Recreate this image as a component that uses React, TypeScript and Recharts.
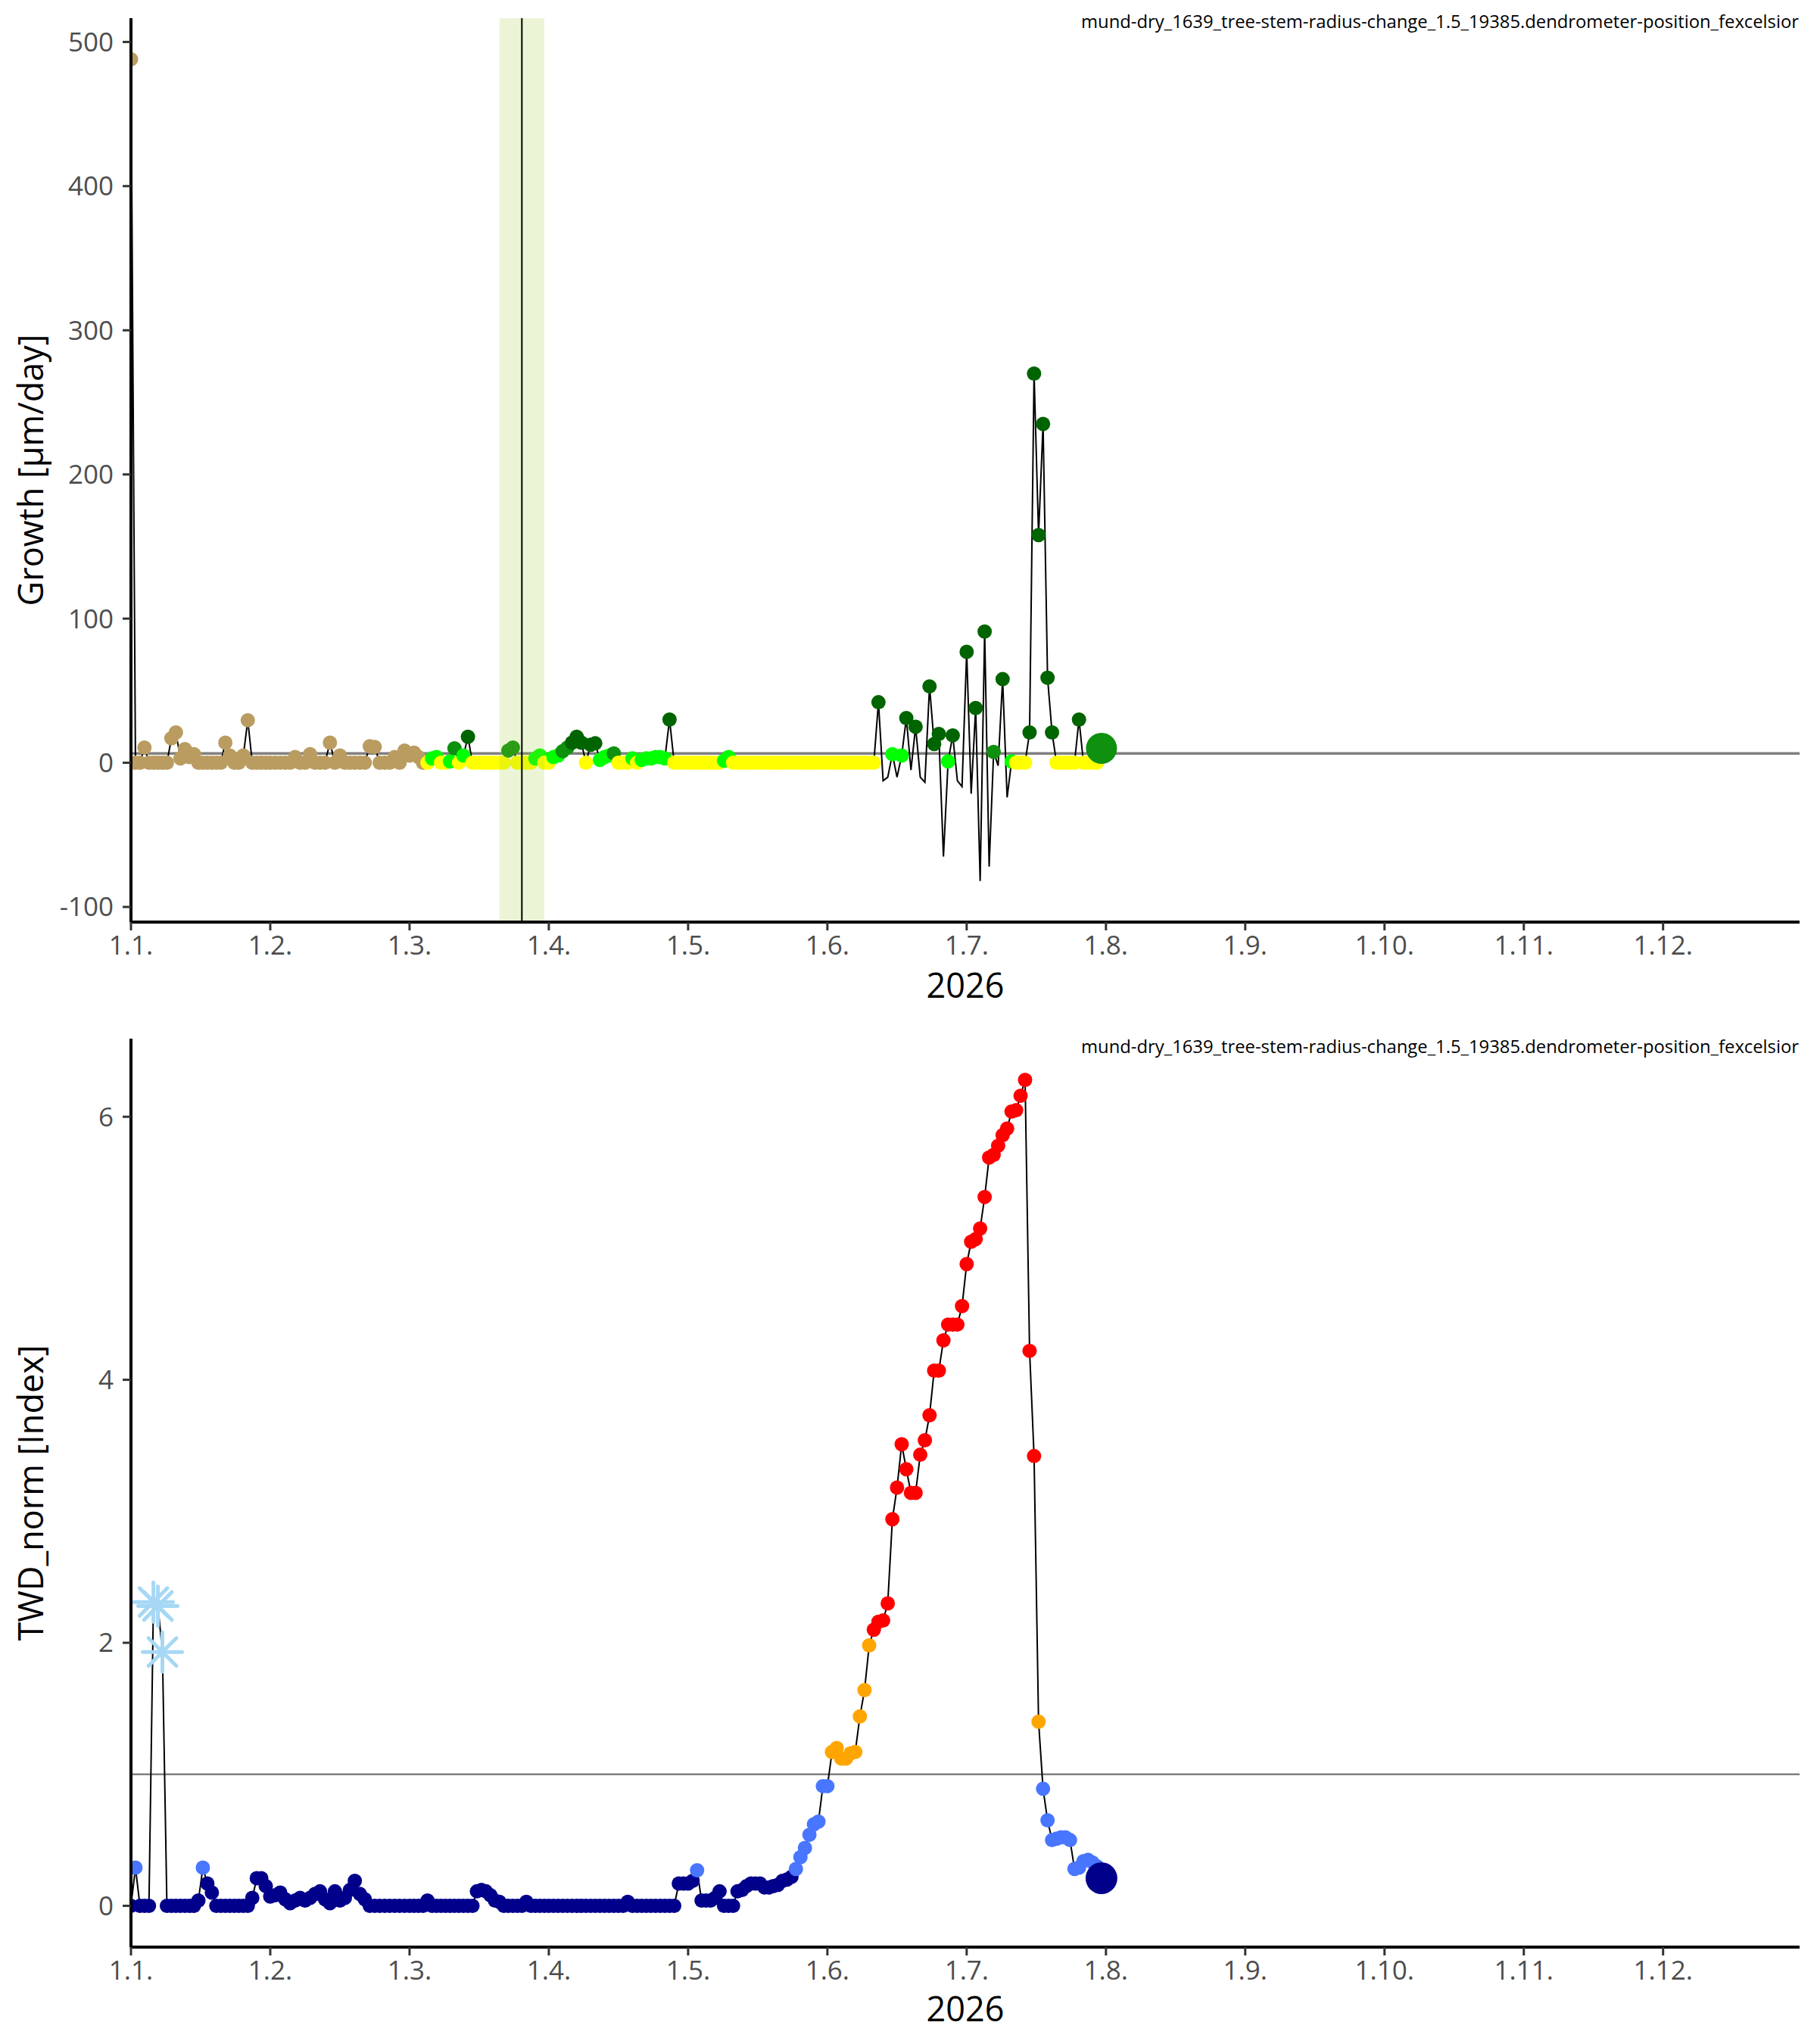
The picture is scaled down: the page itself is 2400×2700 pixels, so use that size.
import React from 'react';
import {
  ComposedChart,
  Line,
  Scatter,
  XAxis,
  YAxis,
  ReferenceLine,
  ReferenceArea,
} from 'recharts';

const YEAR = 2026;
const monthDays = [31, 28, 31, 30, 31, 30, 31, 31, 30, 31, 30, 31];
const monthTicks = [0, 1, 2, 3, 4, 5, 6, 7, 8, 9, 10, 11];
const monthLabels = ['1.1.', '1.2.', '1.3.', '1.4.', '1.5.', '1.6.', '1.7.', '1.8.', '1.9.', '1.10.', '1.11.', '1.12.'];
const growthTicks = [-100, 0, 100, 200, 300, 400, 500];
const twdTicks = [0, 2, 4, 6];

// daily growth [µm/day], one value per day
const growthJan = [488, 0, 0, 10.5, 0, 0, 0, 0, 0, 17, 21, 3, 9.5, 4, 6, 0, 0, 0, 0, 0, 0, 14, 5, 0, 0, 5, 29.5, 0, 0, 0, 0];
const growthFeb = [0, 0, 0, 0, 0, 4, 0, 0, 6, 0, 0, 0, 14, 0, 5, 0, 0, 0, 0, 0, 11.5, 11, 0, 0, 0, 4, 0, 8.5];
const growthMar = [5, 7, 4, 0, 0, 3, 4, 0, 0, 1, 10, 0, 5, 18, 0, 0, 0, 0, 0, 0, 0, 0, 8.5, 10.5, 0, 0, 0, 0, 3, 5, 0];
const growthApr = [0, 4, 5, 8, 10.5, 14, 18, 14, 0, 12.5, 13.5, 2, 4, 5, 6.5, 0, 0, 0, 3, 0, 2, 3, 3, 4, 4, 3, 30, 0, 0, 0];
const growthMay = [0, 0, 0, 0, 0, 0, 0, 0, 1.5, 4, 0, 0, 0, 0, 0, 0, 0, 0, 0, 0, 0, 0, 0, 0, 0, 0, 0, 0, 0, 0, 0];
const growthJun = [0, 0, 0, 0, 0, 0, 0, 0, 0, 0, 0, 42, -12.5, -10, 6, -10, 5, 31, -5, 25, -10, -13.5, 53, 13, 20, -65, 1, 19, -12.5, -16.5];
const growthJul = [77, -21.5, 38, -82, 91, -72, 7.5, -2, 58, -24, 1, 0, 0, 0, 21, 270, 158, 235, 59, 21, 0, 0, 0, 0, 0, 30, 0, 0, 0, 0, 10];

// daily TWD_norm [Index]
const twdJan = [0, 0.29, 0, 0, 0, 2.31, 2.28, 1.93, 0, 0, 0, 0, 0, 0, 0, 0.04, 0.29, 0.17, 0.1, 0, 0, 0, 0, 0, 0, 0, 0, 0.06, 0.21, 0.21, 0.15];
const twdFeb = [0.07, 0.08, 0.1, 0.05, 0.02, 0.04, 0.06, 0.04, 0.06, 0.09, 0.11, 0.05, 0.02, 0.11, 0.04, 0.06, 0.12, 0.19, 0.09, 0.05, 0, 0, 0, 0, 0, 0, 0, 0];
const twdMar = [0, 0, 0, 0, 0.04, 0, 0, 0, 0, 0, 0, 0, 0, 0, 0, 0.11, 0.12, 0.11, 0.08, 0.04, 0.03, 0, 0, 0, 0, 0, 0.03, 0, 0, 0, 0];
const twdApr = [0, 0, 0, 0, 0, 0, 0, 0, 0, 0, 0, 0, 0, 0, 0, 0, 0, 0.03, 0, 0, 0, 0, 0, 0, 0, 0, 0, 0, 0.17, 0.17];
const twdMay = [0.17, 0.19, 0.27, 0.04, 0.04, 0.04, 0.06, 0.11, 0, 0, 0, 0.11, 0.12, 0.15, 0.17, 0.17, 0.17, 0.14, 0.14, 0.15, 0.16, 0.19, 0.2, 0.22, 0.28, 0.37, 0.44, 0.54, 0.62, 0.64, 0.91];
const twdJun = [0.91, 1.17, 1.2, 1.12, 1.12, 1.16, 1.17, 1.44, 1.64, 1.98, 2.1, 2.16, 2.17, 2.3, 2.94, 3.18, 3.51, 3.32, 3.14, 3.14, 3.43, 3.54, 3.73, 4.07, 4.07, 4.3, 4.42, 4.42, 4.42, 4.56];
const twdJul = [4.88, 5.05, 5.07, 5.15, 5.39, 5.69, 5.71, 5.78, 5.86, 5.91, 6.04, 6.05, 6.16, 6.28, 4.22, 3.42, 1.4, 0.89, 0.65, 0.5, 0.51, 0.52, 0.52, 0.5, 0.28, 0.29, 0.34, 0.35, 0.33, 0.3, 0.21];

const seasonStart = '2026-03-05';
const frostDates = ['2026-01-06', '2026-01-07', '2026-01-08'];
const eventDate = '2026-03-26';
const eventWindow = ['2026-03-21', '2026-03-31'];
const growthRefLine = 6.5;
const twdRefLine = 1;
const caption = 'mund-dry_1639_tree-stem-radius-change_1.5_19385.dendrometer-position_fexcelsior';

const FONT = '"Open Sans", "Noto Sans", sans-serif';

const pad = (n: number) => String(n).padStart(2, '0');

function toX(date: string) {
  const [, m, d] = date.split('-').map(Number);
  return m - 1 + (d - 1) / monthDays[m - 1];
}

type Row = { x: number; y: number; date: string; fill?: string };

function buildRows(months: number[][]): Row[] {
  const rows: Row[] = [];
  months.forEach((vals, m) => {
    vals.forEach((y, i) => {
      rows.push({ x: m + i / monthDays[m], y, date: `${YEAR}-${pad(m + 1)}-${pad(i + 1)}` });
    });
  });
  return rows;
}

const growthRows = buildRows([growthJan, growthFeb, growthMar, growthApr, growthMay, growthJun, growthJul]);
const twdRows = buildRows([twdJan, twdFeb, twdMar, twdApr, twdMay, twdJun, twdJul]);

function growthColor(r: Row) {
  if (r.date < seasonStart) return '#BA9C61';
  if (r.y === 0) return '#FFFF00';
  if (r.y < growthRefLine) return '#00FF00';
  if (r.y < 11) return '#0F900F';
  return '#006400';
}

function twdColor(r: Row) {
  if (r.y < 0.25) return '#00008B';
  if (r.y < 1) return '#4876FF';
  if (r.y < 2) return '#FFA500';
  return '#FF0000';
}

const growthPoints = growthRows
  .slice(0, -1)
  .filter((r) => r.date < seasonStart || r.y >= 0)
  .map((r) => ({ ...r, fill: growthColor(r) }));
const growthLast = growthRows.slice(-1).map((r) => ({ ...r, fill: growthColor(r) }));

const twdPoints = twdRows
  .slice(0, -1)
  .filter((r) => !frostDates.includes(r.date))
  .map((r) => ({ ...r, fill: twdColor(r) }));
const twdFrost = twdRows.filter((r) => frostDates.includes(r.date));
const twdLast = twdRows.slice(-1).map((r) => ({ ...r, fill: twdColor(r) }));

const dot = (r: number) => (props: any) => {
  const { cx, cy, payload } = props;
  if (cx == null || cy == null) return <g />;
  return <circle cx={cx} cy={cy} r={r} fill={payload.fill} />;
};

const star = (props: any) => {
  const { cx, cy } = props;
  if (cx == null || cy == null) return <g />;
  const r = 26;
  const d = r * 0.7071;
  return (
    <g stroke="#A6D8F5" strokeWidth={5} strokeLinecap="round">
      <line x1={cx - r} y1={cy} x2={cx + r} y2={cy} />
      <line x1={cx} y1={cy - r} x2={cx} y2={cy + r} />
      <line x1={cx - d} y1={cy - d} x2={cx + d} y2={cy + d} />
      <line x1={cx - d} y1={cy + d} x2={cx + d} y2={cy - d} />
    </g>
  );
};

const tickStyle = { fontSize: 35, fill: '#4D4D4D', fontFamily: FONT };
const axisLine = { stroke: '#000', strokeWidth: 4 };
const tickLine = { stroke: '#333', strokeWidth: 3 };
const titleStyle = { fontSize: 45, fill: '#000', fontFamily: FONT };

const captionStyle: React.CSSProperties = {
  position: 'absolute',
  right: 24,
  fontSize: 23.8,
  lineHeight: 1,
  whiteSpace: 'nowrap',
  color: '#000',
  fontFamily: FONT,
};

function GrowthPanel() {
  return (
    <div style={{ position: 'relative', width: 2400, height: 1350 }}>
      <ComposedChart width={2400} height={1350} data={growthRows} margin={{ top: 24, right: 23, bottom: 0, left: 0 }}>
        <XAxis
          dataKey="x"
          type="number"
          domain={[0, 11.98]}
          ticks={monthTicks}
          interval={0}
          allowDataOverflow
          tickFormatter={(v: number) => monthLabels[v]}
          height={132}
          tickSize={11}
          tickMargin={7}
          axisLine={axisLine}
          tickLine={tickLine}
          tick={tickStyle}
          zIndex={700}
          label={{ value: String(YEAR), position: 'insideBottom', offset: 32, style: titleStyle }}
        />
        <YAxis
          type="number"
          domain={[-110.5, 516.5]}
          ticks={growthTicks}
          interval={0}
          allowDataOverflow
          width={173}
          tickSize={11}
          tickMargin={12}
          axisLine={axisLine}
          tickLine={tickLine}
          tick={tickStyle}
          zIndex={700}
          label={{
            value: 'Growth [µm/day]',
            angle: -90,
            position: 'insideLeft',
            offset: 41,
            style: { ...titleStyle, textAnchor: 'middle' },
          }}
        />
        <ReferenceLine y={growthRefLine} stroke="#808080" strokeWidth={3.5} zIndex={350} />
        <Line dataKey="y" type="linear" stroke="#000" strokeWidth={2} dot={false} activeDot={false} isAnimationActive={false} zIndex={400} />
        <Scatter data={growthPoints} dataKey="y" shape={dot(9.5)} isAnimationActive={false} zIndex={600} />
        <Scatter data={growthLast} dataKey="y" shape={dot(20.5)} isAnimationActive={false} zIndex={610} />
        <ReferenceArea
          x1={toX(eventWindow[0])}
          x2={toX(eventWindow[1])}
          fill="#9ACD32"
          fillOpacity={0.2}
          stroke="none"
          zIndex={650}
        />
        <ReferenceLine x={toX(eventDate)} stroke="#000" strokeWidth={2} zIndex={660} />
      </ComposedChart>
      <div style={{ ...captionStyle, top: 17 }}>{caption}</div>
    </div>
  );
}

function TwdPanel() {
  return (
    <div style={{ position: 'relative', width: 2400, height: 1350 }}>
      <ComposedChart width={2400} height={1350} data={twdRows} margin={{ top: 22, right: 23, bottom: 0, left: 0 }}>
        <XAxis
          dataKey="x"
          type="number"
          domain={[0, 11.98]}
          ticks={monthTicks}
          interval={0}
          allowDataOverflow
          tickFormatter={(v: number) => monthLabels[v]}
          height={128}
          tickSize={11}
          tickMargin={7}
          axisLine={axisLine}
          tickLine={tickLine}
          tick={tickStyle}
          zIndex={700}
          label={{ value: String(YEAR), position: 'insideBottom', offset: 30, style: titleStyle }}
        />
        <YAxis
          type="number"
          domain={[-0.314, 6.594]}
          ticks={twdTicks}
          interval={0}
          allowDataOverflow
          width={173}
          tickSize={11}
          tickMargin={12}
          axisLine={axisLine}
          tickLine={tickLine}
          tick={tickStyle}
          zIndex={700}
          label={{
            value: 'TWD_norm [Index]',
            angle: -90,
            position: 'insideLeft',
            offset: 41,
            style: { ...titleStyle, textAnchor: 'middle' },
          }}
        />
        <ReferenceLine y={twdRefLine} stroke="#808080" strokeWidth={2.5} zIndex={350} />
        <Line dataKey="y" type="linear" stroke="#000" strokeWidth={2} dot={false} activeDot={false} isAnimationActive={false} zIndex={400} />
        <Scatter data={twdPoints} dataKey="y" shape={dot(9.5)} isAnimationActive={false} zIndex={600} />
        <Scatter data={twdFrost} dataKey="y" shape={star} isAnimationActive={false} zIndex={605} />
        <Scatter data={twdLast} dataKey="y" shape={dot(21)} isAnimationActive={false} zIndex={610} />
      </ComposedChart>
      <div style={{ ...captionStyle, top: 21 }}>{caption}</div>
    </div>
  );
}

export default function App() {
  return (
    <div style={{ width: 2400, height: 2700, background: '#fff', fontFamily: FONT }}>
      <style>{'body{margin:0;background:#fff}'}</style>
      <GrowthPanel />
      <TwdPanel />
    </div>
  );
}
